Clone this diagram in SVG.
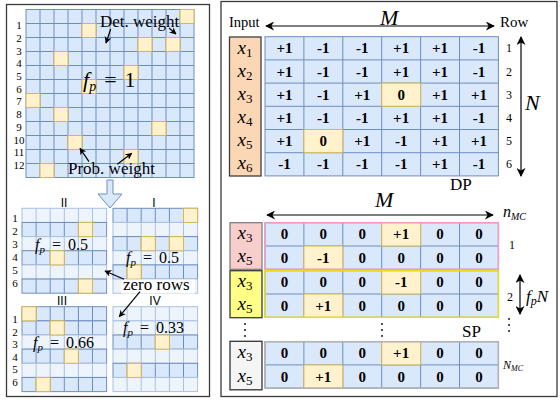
<svg xmlns="http://www.w3.org/2000/svg" xmlns:xlink="http://www.w3.org/1999/xlink" width="560" height="403" viewBox="0 0 560 403">
<style>
text{font-family:"Liberation Serif","Times New Roman",serif;fill:#000}
.cn{fill:#dae8fc;stroke:#6c8ebf;stroke-width:1}
.cz{fill:#eef4fc;stroke:#a9c1e3;stroke-width:1}
.cy{fill:#fff2cc;stroke:#d6b656;stroke-width:1}
.ln{fill:none;stroke:#6c8ebf;stroke-width:1}
.lz{fill:none;stroke:#a9c1e3;stroke-width:1}
.lbl{font-size:17px}
.rn{font-size:11px;text-anchor:middle}
.rr{font-size:12px;text-anchor:middle}
.gl{font-family:"Liberation Sans",Arial,sans-serif;font-size:12px;text-anchor:middle}
.v{font-size:15px;font-weight:bold;text-anchor:middle}
.it{font-style:italic}
.xi{font-size:19px;text-anchor:middle;font-style:italic}
.sub{font-size:13px;font-style:normal}
.m{font-size:16px}
.arr{fill:none;stroke:#000;stroke-width:1.2}
.frame{fill:none;stroke:#3a3a3a;stroke-width:1.3}
.dot{fill:#000}
</style>
<defs>
<marker id="ah" viewBox="0 0 10 10" refX="9" refY="5" markerUnits="userSpaceOnUse" markerWidth="10" markerHeight="9" orient="auto-start-reverse">
<path d="M0,0 L10,5 L0,10 L3,5 z" fill="#000"/>
</marker>
<marker id="as" viewBox="0 0 10 10" refX="9" refY="5" markerUnits="userSpaceOnUse" markerWidth="7" markerHeight="7" orient="auto">
<path d="M0,0 L10,5 L0,10 L3,5 z" fill="#000"/>
</marker>
<g id="rowN"><rect class="cn" width="84.6" height="14.15"/><path class="ln" d="M14.1 0v14.15M28.2 0v14.15M42.3 0v14.15M56.4 0v14.15M70.5 0v14.15"/></g>
<g id="rowZ"><rect class="cz" width="84.6" height="14.15"/><path class="lz" d="M14.1 0v14.15M28.2 0v14.15M42.3 0v14.15M56.4 0v14.15M70.5 0v14.15"/></g>
<rect id="yc" class="cy" width="14.1" height="14.15"/>
<rect id="yb" class="cy" width="14" height="14"/>
</defs>

<!-- Left panel -->
<g id="left-panel">
<rect class="frame" x="6.5" y="4.5" width="203" height="392"/>
</g>

<g id="grid-fp1">
<rect class="cn" x="26" y="9.5" width="168" height="168"/>
<path class="ln" d="M40 9.5v168M54 9.5v168M68 9.5v168M82 9.5v168M96 9.5v168M110 9.5v168M124 9.5v168M138 9.5v168M152 9.5v168M166 9.5v168M180 9.5v168M26 23.5h168M26 37.5h168M26 51.5h168M26 65.5h168M26 79.5h168M26 93.5h168M26 107.5h168M26 121.5h168M26 135.5h168M26 149.5h168M26 163.5h168"/>
<use xlink:href="#yb" x="180" y="9.5"/>
<use xlink:href="#yb" x="82" y="23.5"/>
<use xlink:href="#yb" x="138" y="37.5"/>
<use xlink:href="#yb" x="166" y="37.5"/>
<use xlink:href="#yb" x="54" y="51.5"/>
<use xlink:href="#yb" x="124" y="65.5"/>
<use xlink:href="#yb" x="82" y="79.5"/>
<use xlink:href="#yb" x="26" y="93.5"/>
<use xlink:href="#yb" x="54" y="107.5"/>
<use xlink:href="#yb" x="152" y="121.5"/>
<use xlink:href="#yb" x="68" y="135.5"/>
<use xlink:href="#yb" x="124" y="149.5"/>
<use xlink:href="#yb" x="40" y="163.5"/>
<text class="rn" x="19" y="29">1</text>
<text class="rn" x="19" y="41.7">2</text>
<text class="rn" x="19" y="54.5">3</text>
<text class="rn" x="19" y="67.2">4</text>
<text class="rn" x="19" y="79.9">5</text>
<text class="rn" x="19" y="92.7">6</text>
<text class="rn" x="19" y="105.4">7</text>
<text class="rn" x="19" y="118.1">8</text>
<text class="rn" x="19" y="130.8">9</text>
<text class="rn" x="19" y="143.6">10</text>
<text class="rn" x="19" y="156.3">11</text>
<text class="rn" x="19" y="169">12</text>
<text x="83" y="87" font-size="22"><tspan class="it">f</tspan><tspan class="it" font-size="14" dy="4">p</tspan><tspan dy="-4" dx="8">=</tspan><tspan dx="8">1</tspan></text>
<text class="lbl" x="100" y="27">Det. weight</text>
<text class="lbl" x="68" y="174">Prob. weight</text>
</g>

<g id="down-arrow">
<path d="M107,180 H113 V194 H122 L110,208 L98,194 H107 Z" fill="#dae8fc" stroke="#6c8ebf" stroke-width="1"/>
</g>

<g id="grid-II">
<text class="gl" x="64" y="207">II</text>
<use xlink:href="#rowZ" x="22" y="208.3"/>
<use xlink:href="#rowN" x="22" y="222.45"/>
<use xlink:href="#rowZ" x="22" y="236.6"/>
<use xlink:href="#rowN" x="22" y="250.75"/>
<use xlink:href="#rowZ" x="22" y="264.9"/>
<use xlink:href="#rowN" x="22" y="279.05"/>
<use xlink:href="#yc" x="78.4" y="222.45"/>
<use xlink:href="#yc" x="50.2" y="250.75"/>
<use xlink:href="#yc" x="78.4" y="279.05"/>
<text class="rn" x="15" y="222.3">1</text>
<text class="rn" x="15" y="235.3">2</text>
<text class="rn" x="15" y="248.3">3</text>
<text class="rn" x="15" y="261.3">4</text>
<text class="rn" x="15" y="274.3">5</text>
<text class="rn" x="15" y="287.3">6</text>
<text class="m" x="35" y="250"><tspan class="it">f</tspan><tspan class="it" font-size="11" dy="3">p</tspan><tspan dy="-3" dx="7">=</tspan><tspan dx="7">0.5</tspan></text>
</g>

<g id="grid-I">
<text class="gl" x="154" y="207">I</text>
<use xlink:href="#rowN" x="113" y="208.3"/>
<use xlink:href="#rowZ" x="113" y="222.45"/>
<use xlink:href="#rowN" x="113" y="236.6"/>
<use xlink:href="#rowZ" x="113" y="250.75"/>
<use xlink:href="#rowN" x="113" y="264.9"/>
<use xlink:href="#rowZ" x="113" y="279.05"/>
<use xlink:href="#yc" x="183.5" y="208.3"/>
<use xlink:href="#yc" x="141.2" y="236.6"/>
<use xlink:href="#yc" x="169.4" y="236.6"/>
<use xlink:href="#yc" x="127.1" y="264.9"/>
<text class="m" x="126" y="263"><tspan class="it">f</tspan><tspan class="it" font-size="11" dy="3">p</tspan><tspan dy="-3" dx="7">=</tspan><tspan dx="7">0.5</tspan></text>
</g>

<g id="grid-III">
<text class="gl" x="62" y="305">III</text>
<use xlink:href="#rowN" x="22" y="306.7"/>
<use xlink:href="#rowN" x="22" y="320.85"/>
<use xlink:href="#rowZ" x="22" y="335"/>
<use xlink:href="#rowN" x="22" y="349.15"/>
<use xlink:href="#rowZ" x="22" y="363.3"/>
<use xlink:href="#rowN" x="22" y="377.45"/>
<use xlink:href="#yc" x="22" y="306.7"/>
<use xlink:href="#yc" x="50.2" y="320.85"/>
<use xlink:href="#yc" x="64.3" y="349.15"/>
<use xlink:href="#yc" x="36.1" y="377.45"/>
<text class="rn" x="15" y="323">1</text>
<text class="rn" x="15" y="335.6">2</text>
<text class="rn" x="15" y="348.2">3</text>
<text class="rn" x="15" y="360.8">4</text>
<text class="rn" x="15" y="373.4">5</text>
<text class="rn" x="15" y="386">6</text>
<text class="m" x="33" y="348"><tspan class="it">f</tspan><tspan class="it" font-size="11" dy="3">p</tspan><tspan dy="-3" dx="7">=</tspan><tspan dx="7">0.66</tspan></text>
</g>

<g id="grid-IV">
<text class="gl" x="155" y="305">IV</text>
<use xlink:href="#rowZ" x="113" y="306.7"/>
<use xlink:href="#rowZ" x="113" y="320.85"/>
<use xlink:href="#rowN" x="113" y="335"/>
<use xlink:href="#rowZ" x="113" y="349.15"/>
<use xlink:href="#rowN" x="113" y="363.3"/>
<use xlink:href="#rowZ" x="113" y="377.45"/>
<use xlink:href="#yc" x="155.3" y="335"/>
<use xlink:href="#yc" x="127.1" y="363.3"/>
<text class="m" x="123" y="333"><tspan class="it">f</tspan><tspan class="it" font-size="11" dy="3">p</tspan><tspan dy="-3" dx="7">=</tspan><tspan dx="7">0.33</tspan></text>
</g>

<g id="zero-rows">
<rect x="121" y="279.5" width="74" height="14" fill="#fff"/>
<text class="lbl" x="123" y="290">zero rows</text>
</g>

<!-- Right panel -->
<g id="right-panel">
<rect class="frame" x="221" y="1.5" width="336" height="395"/>
<text x="229" y="27" font-size="14.5">Input</text>
<text x="500" y="27" font-size="15">Row</text>
<text class="it" x="380" y="25" font-size="22">M</text>
<text class="it" x="525" y="110" font-size="22">N</text>
<text x="450" y="190" font-size="17">DP</text>
</g>

<g id="input-dp">
<rect x="229.5" y="37" width="31.5" height="139" fill="#fcd7b6" stroke="#3d3d3d" stroke-width="1.3"/>
<text class="xi" x="245" y="54">x<tspan class="sub" dy="3">1</tspan></text>
<text class="xi" x="245" y="77">x<tspan class="sub" dy="3">2</tspan></text>
<text class="xi" x="245" y="100">x<tspan class="sub" dy="3">3</tspan></text>
<text class="xi" x="245" y="123">x<tspan class="sub" dy="3">4</tspan></text>
<text class="xi" x="245" y="146">x<tspan class="sub" dy="3">5</tspan></text>
<text class="xi" x="245" y="169">x<tspan class="sub" dy="3">6</tspan></text>
</g>

<g id="grid-dp">
<rect class="cn" x="265" y="36.7" width="233.4" height="139.2"/>
<path class="ln" d="M303.9 36.7v139.2M342.8 36.7v139.2M381.7 36.7v139.2M420.6 36.7v139.2M459.5 36.7v139.2M265 59.9h233.4M265 83.1h233.4M265 106.3h233.4M265 129.5h233.4M265 152.7h233.4"/>
<rect class="cy" x="381.7" y="83.1" width="38.9" height="23.2"/>
<rect class="cy" x="303.9" y="129.5" width="38.9" height="23.2"/>
<text class="v" x="284.45" y="53.3">+1</text><text class="v" x="323.35" y="53.3">-1</text><text class="v" x="362.25" y="53.3">-1</text><text class="v" x="401.15" y="53.3">+1</text><text class="v" x="440.05" y="53.3">+1</text><text class="v" x="478.95" y="53.3">-1</text>
<text class="v" x="284.45" y="76.5">+1</text><text class="v" x="323.35" y="76.5">-1</text><text class="v" x="362.25" y="76.5">-1</text><text class="v" x="401.15" y="76.5">+1</text><text class="v" x="440.05" y="76.5">+1</text><text class="v" x="478.95" y="76.5">-1</text>
<text class="v" x="284.45" y="99.7">+1</text><text class="v" x="323.35" y="99.7">-1</text><text class="v" x="362.25" y="99.7">+1</text><text class="v" x="401.15" y="99.7">0</text><text class="v" x="440.05" y="99.7">+1</text><text class="v" x="478.95" y="99.7">+1</text>
<text class="v" x="284.45" y="122.9">+1</text><text class="v" x="323.35" y="122.9">-1</text><text class="v" x="362.25" y="122.9">-1</text><text class="v" x="401.15" y="122.9">+1</text><text class="v" x="440.05" y="122.9">+1</text><text class="v" x="478.95" y="122.9">-1</text>
<text class="v" x="284.45" y="146.1">+1</text><text class="v" x="323.35" y="146.1">0</text><text class="v" x="362.25" y="146.1">+1</text><text class="v" x="401.15" y="146.1">-1</text><text class="v" x="440.05" y="146.1">+1</text><text class="v" x="478.95" y="146.1">+1</text>
<text class="v" x="284.45" y="169.3">-1</text><text class="v" x="323.35" y="169.3">-1</text><text class="v" x="362.25" y="169.3">-1</text><text class="v" x="401.15" y="169.3">-1</text><text class="v" x="440.05" y="169.3">+1</text><text class="v" x="478.95" y="169.3">-1</text>
<text class="rr" x="509" y="52.3">1</text>
<text class="rr" x="509" y="75.5">2</text>
<text class="rr" x="509" y="98.7">3</text>
<text class="rr" x="509" y="121.9">4</text>
<text class="rr" x="509" y="145.1">5</text>
<text class="rr" x="509" y="168.3">6</text>
</g>

<!-- Sparse part -->
<g id="sp-header">
<text class="it" x="375" y="207" font-size="22">M</text>
<text x="503" y="217" font-size="16" class="it">n<tspan font-size="10" dy="3">MC</tspan></text>
</g>

<g id="group-1">
<rect x="230" y="222.7" width="32" height="46.6" fill="#f8cecc" stroke="#808080" stroke-width="1.3"/>
<text class="xi" x="245" y="239">x<tspan class="sub" dy="3">3</tspan></text>
<text class="xi" x="245" y="262.3">x<tspan class="sub" dy="3">5</tspan></text>
<rect class="cn" x="265" y="222.7" width="233.4" height="46.6"/>
<path class="ln" d="M303.9 222.7v46.6M342.8 222.7v46.6M381.7 222.7v46.6M420.6 222.7v46.6M459.5 222.7v46.6M265 246h233.4"/>
<rect class="cy" x="381.7" y="222.7" width="38.9" height="23.3"/>
<rect class="cy" x="303.9" y="246" width="38.9" height="23.3"/>
<rect x="265" y="222.7" width="233.4" height="46.6" fill="none" stroke="#f59ac7" stroke-width="1.5"/>
<text class="v" x="284.45" y="239.4">0</text><text class="v" x="323.35" y="239.4">0</text><text class="v" x="362.25" y="239.4">0</text><text class="v" x="401.15" y="239.4">+1</text><text class="v" x="440.05" y="239.4">0</text><text class="v" x="478.95" y="239.4">0</text>
<text class="v" x="284.45" y="262.7">0</text><text class="v" x="323.35" y="262.7">-1</text><text class="v" x="362.25" y="262.7">0</text><text class="v" x="401.15" y="262.7">0</text><text class="v" x="440.05" y="262.7">0</text><text class="v" x="478.95" y="262.7">0</text>
<text class="rr" x="512" y="249">1</text>
</g>

<g id="group-2">
<rect x="230" y="270.7" width="32" height="47" fill="#ffff88" stroke="#36393d" stroke-width="1.3"/>
<text class="xi" x="245" y="287">x<tspan class="sub" dy="3">3</tspan></text>
<text class="xi" x="245" y="310.3">x<tspan class="sub" dy="3">5</tspan></text>
<rect class="cn" x="265" y="270.7" width="233.4" height="46.6"/>
<path class="ln" d="M303.9 270.7v46.6M342.8 270.7v46.6M381.7 270.7v46.6M420.6 270.7v46.6M459.5 270.7v46.6M265 294h233.4"/>
<rect class="cy" x="381.7" y="270.7" width="38.9" height="23.3"/>
<rect class="cy" x="303.9" y="294" width="38.9" height="23.3"/>
<rect x="265" y="270.7" width="233.4" height="46.6" fill="none" stroke="#e5e017" stroke-width="1.5"/>
<text class="v" x="284.45" y="287.4">0</text><text class="v" x="323.35" y="287.4">0</text><text class="v" x="362.25" y="287.4">0</text><text class="v" x="401.15" y="287.4">-1</text><text class="v" x="440.05" y="287.4">0</text><text class="v" x="478.95" y="287.4">0</text>
<text class="v" x="284.45" y="310.7">0</text><text class="v" x="323.35" y="310.7">+1</text><text class="v" x="362.25" y="310.7">0</text><text class="v" x="401.15" y="310.7">0</text><text class="v" x="440.05" y="310.7">0</text><text class="v" x="478.95" y="310.7">0</text>
<text class="rr" x="510" y="301">2</text>
<text x="526" y="302" font-size="17" class="it">f<tspan font-size="12" dy="3">p</tspan><tspan dy="-3">N</tspan></text>
</g>

<g id="ellipsis">
<circle class="dot" cx="245" cy="324" r="0.9"/><circle class="dot" cx="245" cy="330" r="0.9"/><circle class="dot" cx="245" cy="336" r="0.9"/>
<circle class="dot" cx="382" cy="324" r="0.9"/><circle class="dot" cx="382" cy="330" r="0.9"/><circle class="dot" cx="382" cy="336" r="0.9"/>
<circle class="dot" cx="509" cy="319" r="0.9"/><circle class="dot" cx="509" cy="325" r="0.9"/><circle class="dot" cx="509" cy="331" r="0.9"/>
<text x="462" y="337" font-size="17">SP</text>
</g>

<g id="group-nmc">
<rect x="230" y="341.3" width="32" height="48.5" fill="#f5f5f5" stroke="#333" stroke-width="1.3"/>
<text class="xi" x="245" y="358">x<tspan class="sub" dy="3">3</tspan></text>
<text class="xi" x="245" y="382">x<tspan class="sub" dy="3">5</tspan></text>
<rect class="cn" x="265" y="341.7" width="233.4" height="46.4"/>
<path class="ln" d="M303.9 341.7v46.4M342.8 341.7v46.4M381.7 341.7v46.4M420.6 341.7v46.4M459.5 341.7v46.4M265 364.9h233.4"/>
<rect class="cy" x="381.7" y="341.7" width="38.9" height="23.2"/>
<rect class="cy" x="303.9" y="364.9" width="38.9" height="23.2"/>
<rect x="265" y="341.7" width="233.4" height="46.4" fill="none" stroke="#b3b3b3" stroke-width="1.5"/>
<text class="v" x="284.45" y="358.3">0</text><text class="v" x="323.35" y="358.3">0</text><text class="v" x="362.25" y="358.3">0</text><text class="v" x="401.15" y="358.3">+1</text><text class="v" x="440.05" y="358.3">0</text><text class="v" x="478.95" y="358.3">0</text>
<text class="v" x="284.45" y="381.5">0</text><text class="v" x="323.35" y="381.5">+1</text><text class="v" x="362.25" y="381.5">0</text><text class="v" x="401.15" y="381.5">0</text><text class="v" x="440.05" y="381.5">0</text><text class="v" x="478.95" y="381.5">0</text>
<text x="503" y="369" font-size="12" class="it">N<tspan font-size="8" dy="2">MC</tspan></text>
</g>

<g id="connectors">
<path class="arr" d="M110.7 29 L106 43" marker-end="url(#as)"/>
<path class="arr" d="M169 28 L176 34" marker-end="url(#as)"/>
<path class="arr" d="M89 161.7 L80 148.3" marker-end="url(#as)"/>
<path class="arr" d="M117.3 164.3 L131.7 153.3" marker-end="url(#as)"/>
<path class="arr" d="M124 279.3 L105 271" marker-end="url(#as)"/>
<path class="arr" d="M140 291.7 L119.3 316.7" marker-end="url(#as)"/>
<path class="arr" d="M266 26 H494" marker-start="url(#ah)" marker-end="url(#ah)"/>
<path class="arr" d="M521 37 V176" marker-start="url(#ah)" marker-end="url(#ah)"/>
<path class="arr" d="M267 215 H493" marker-start="url(#ah)" marker-end="url(#ah)"/>
<path class="arr" d="M520 275 V314" marker-start="url(#ah)" marker-end="url(#ah)"/>
</g>
</svg>
